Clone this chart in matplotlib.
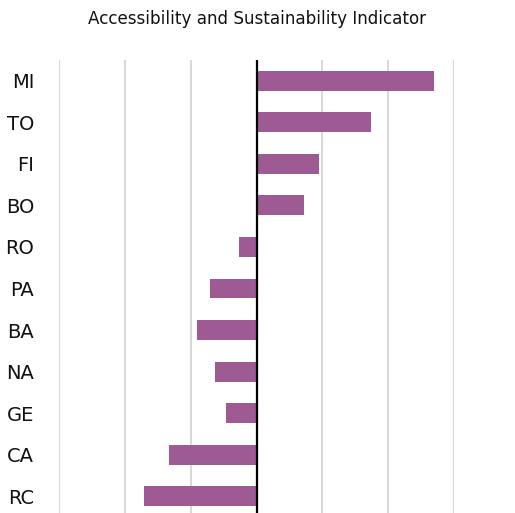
import numpy as np
import matplotlib
matplotlib.use("Agg")
import matplotlib.pyplot as plt

# indicator per city, top to bottom
cities = ["MI", "TO", "FI", "BO", "RO", "PA", "BA", "NA", "GE", "CA", "RC"]
indicator = [2.70, 1.745, 0.956, 0.72, -0.27, -0.70, -0.90, -0.63, -0.466, -1.335, -1.715]

bar_color = "#9E5A92"

fig = plt.figure(figsize=(5.15, 5.13), dpi=100)
ax = fig.add_axes([59 / 515, -4 / 513, (454 - 59) / 515, (513 - 60 + 4) / 513])

y = np.arange(len(cities))
ax.barh(y, indicator, height=0.48, color=bar_color, zorder=3)
ax.axvline(0, color="black", linewidth=1.6, zorder=4)

ax.set_xlim(-3, 3)
ax.set_ylim(len(cities) - 0.5, -0.5)
ax.set_xticks(np.arange(-3, 4, 1))
ax.set_xticklabels([])
ax.grid(axis="x", color="#D9D9D9", linewidth=1.5, zorder=0)
ax.tick_params(axis="x", length=0)
ax.tick_params(axis="y", length=0, pad=18)
ax.set_yticks(y)
ax.set_yticklabels(cities, fontsize=14, color="#111111")
for s in ax.spines.values():
    s.set_visible(False)

fig.text(0.5, 1 - 19 / 513, "Accessibility and Sustainability Indicator",
         ha="center", va="center", fontsize=12.1, color="#111111")

fig.savefig("out.png", dpi=100)
